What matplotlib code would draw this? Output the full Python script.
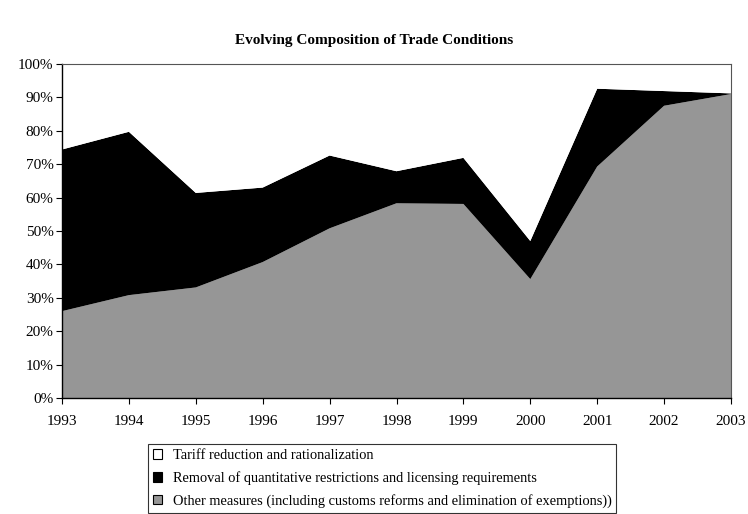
import matplotlib

matplotlib.use("Agg")
import matplotlib.pyplot as plt  # noqa: E402
from matplotlib.patches import Patch  # noqa: E402

plt.rcParams["font.family"] = ["Liberation Serif", "DejaVu Serif"]

years = [1993, 1994, 1995, 1996, 1997, 1998, 1999, 2000, 2001, 2002, 2003]
other = [26.0, 30.8, 33.1, 40.7, 50.8, 58.3, 58.1, 35.6, 69.3, 87.5, 91.0]
removal = [48.4, 48.9, 28.3, 22.3, 21.8, 9.6, 13.8, 11.4, 23.3, 4.4, 0.2]
tariff = [100 - o - r for o, r in zip(other, removal)]

labels = [
    "Tariff reduction and rationalization",
    "Removal of quantitative restrictions and licensing requirements",
    "Other measures (including customs reforms and elimination of exemptions))",
]
colors = ["#ffffff", "#000000", "#969696"]

fig = plt.figure(figsize=(7.48, 5.14), dpi=100)
ax = fig.add_axes([62 / 748, 1 - 398 / 514, (731 - 62) / 748, (398 - 64) / 514])

# stacked to 100%: grey base, black middle, white remainder on top
ax.stackplot(years, other, removal, tariff,
             colors=[colors[2], colors[1], colors[0]], linewidth=0)

ax.set_xlim(1993, 2003)
ax.set_ylim(0, 100)
ax.set_xticks(years)
ax.set_yticks(range(0, 101, 10))
ax.set_yticklabels([f"{v}%" for v in range(0, 101, 10)])
ax.tick_params(direction="out", length=4, width=0.8, labelsize=11, colors="black")
ax.tick_params(axis="x", pad=8)
ax.tick_params(axis="y", pad=2)
for side in ["left", "bottom"]:
    ax.spines[side].set_color("black")
    ax.spines[side].set_linewidth(1.0)
for side in ["top", "right"]:
    ax.spines[side].set_color("#555555")
    ax.spines[side].set_linewidth(0.8)

fig.text(0.5, 1 - 41 / 514, "Evolving Composition of Trade Conditions",
         ha="center", va="center", fontsize=11, fontweight="bold")

handles = [Patch(facecolor=c, edgecolor="black", linewidth=0.8) for c in colors]
leg = fig.legend(handles, labels, loc="upper left",
                 bbox_to_anchor=(148 / 748, 1 - 444 / 514),
                 fontsize=10.4, frameon=True, fancybox=False,
                 handlelength=0.65, handleheight=0.65, handletextpad=0.7,
                 labelspacing=0.62, borderpad=0.35, borderaxespad=0)
leg.get_frame().set_edgecolor("black")
leg.get_frame().set_linewidth(0.8)

fig.savefig("out.png", dpi=100)
